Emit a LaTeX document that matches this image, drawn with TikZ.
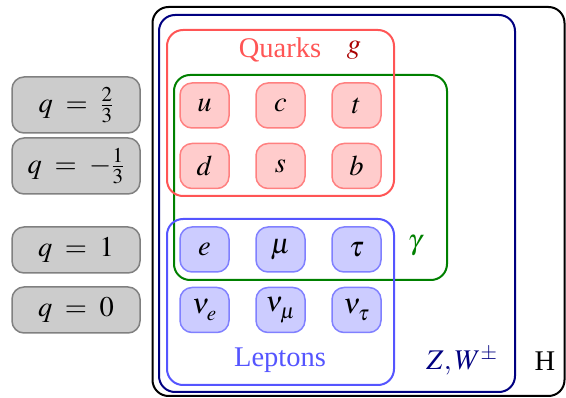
\documentclass[tikz,border=0pt]{standalone}
\usepackage{mathptmx}
\usepackage{fontspec}
\setmainfont{Liberation Serif}
\definecolor{qfill}{HTML}{FFCCCC}
\definecolor{qline}{HTML}{FF8080}
\definecolor{lfill}{HTML}{CCCCFF}
\definecolor{lline}{HTML}{8080FF}
\definecolor{redbox}{HTML}{FF5555}
\definecolor{bluebox}{HTML}{5555FF}
\definecolor{greenbox}{HTML}{008000}
\definecolor{navybox}{HTML}{000080}
\definecolor{gcol}{HTML}{AA0000}
\definecolor{chfill}{HTML}{CCCCCC}
\definecolor{chline}{HTML}{808080}
\newcommand{\lowsub}[2]{#1_{\raisebox{-3pt}{$\scriptstyle #2$}}}
\tikzset{
  bigbox/.style={draw, line width=2pt, rounded corners=16pt, inner sep=0pt, outer sep=0pt},
  part/.style={draw, line width=1.5pt, rounded corners=12pt, minimum width=49pt, minimum height=45pt, inner sep=0pt},
  quark/.style={part, fill=qfill, draw=qline},
  lepton/.style={part, fill=lfill, draw=lline},
  charge/.style={draw=chline, fill=chfill, line width=1.5pt, rounded corners=12pt, minimum width=128pt, inner sep=0pt},
  lbl/.style={inner sep=0pt}
}
\begin{document}
\begin{tikzpicture}[x=1pt,y=-1pt,font=\fontsize{28.5}{33}\selectfont]
\useasboundingbox (0,0) rectangle (566,398);
\node[bigbox, draw=black, minimum width=412pt, minimum height=389pt] (H) at (358.5,201.5) {};
\node[bigbox, draw=navybox, minimum width=356pt, minimum height=377pt] (ZW) at (337,203.5) {};
\node[bigbox, draw=greenbox, minimum width=273pt, minimum height=205pt] (EM) at (310.5,177.5) {};
\node[bigbox, draw=redbox, minimum width=227pt, minimum height=166pt] (QB) at (280.5,113) {};
\node[bigbox, draw=bluebox, minimum width=227pt, minimum height=166pt] (LB) at (280.5,302) {};

\node[quark] (u) at (204.5,105.5) {$u$};
\node[quark] (c) at (280.5,105.5) {$c$};
\node[quark] (t) at (356.5,105.5) {$t$};
\node[quark] (d) at (204.5,166) {$d$};
\node[quark] (s) at (280.5,166) {$s$};
\node[quark] (b) at (356.5,166) {$b$};
\node[lepton] (e) at (204.5,249.5) {$e$};
\node[lepton] (mu) at (280.5,249.5) {$\mu$};
\node[lepton] (tau) at (356.5,249.5) {$\tau$};
\node[lepton] (ve) at (204.5,310) {$\lowsub{\nu}{e}$};
\node[lepton] (vm) at (280.5,310) {$\lowsub{\nu}{\mu}$};
\node[lepton] (vt) at (356.5,310) {$\lowsub{\nu}{\tau}$};

\node[charge, minimum height=56pt] (q23) at (76,105) {$q\;=\;\frac{2}{3}$};
\node[charge, minimum height=56pt] (q13) at (76,166) {$q\;=\;-\frac{1}{3}$};
\node[charge, minimum height=46pt] (q1) at (76,250) {$q\;=\;1$};
\node[charge, minimum height=46pt] (q0) at (76,310) {$q\;=\;0$};

\node[lbl, text=redbox] (quarks) at (280,50) {Quarks};
\node[lbl, text=gcol] (g) at (354,50) {$g$};
\node[lbl, text=greenbox] (gamma) at (415,246) {$\gamma$};
\node[lbl, text=bluebox] (leptons) at (280,360) {Leptons};
\node[lbl, text=navybox] (zw) at (462,361) {$Z,W^{\pm}$};
\node[lbl] (h) at (545,361) {H};
\end{tikzpicture}
\end{document}
